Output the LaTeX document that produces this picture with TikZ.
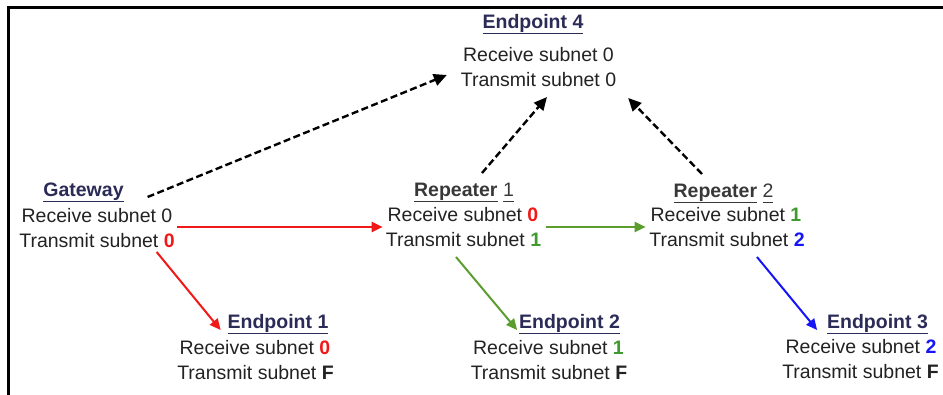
\documentclass[tikz,border=0pt]{standalone}
\usepackage{fontspec}
\setmainfont{Liberation Sans}
\usetikzlibrary{arrows.meta,calc}
\definecolor{txt}{HTML}{222222}
\definecolor{navy}{HTML}{2B2B58}
\definecolor{rep}{HTML}{383838}
\definecolor{myred}{HTML}{F01818}
\definecolor{mygreen}{HTML}{5C9E2E}
\definecolor{numgreen}{HTML}{3E9A2C}
\definecolor{myblue}{HTML}{1515F5}
\newcommand\myul[1]{\setbox0\hbox{#1}\rlap{\rule[-5.5pt]{\wd0}{1.8pt}}\box0\relax}
\newcommand\rn[1]{\textcolor{myred}{\textbf{#1}}}
\newcommand\gn[1]{\textcolor{numgreen}{\textbf{#1}}}
\newcommand\bn[1]{\textcolor{myblue}{\textbf{#1}}}
\begin{document}
\begin{tikzpicture}[x=1pt,y=-1pt,
  every node/.style={inner sep=0pt,outer sep=0pt,anchor=base,font=\fontsize{19.5}{24}\selectfont,text=txt},
  ttl/.style={font=\fontsize{19.5}{24}\selectfont\bfseries,text=navy},
  rttl/.style={font=\fontsize{19.5}{24}\selectfont,text=rep},
  dasharrow/.style={draw=black,line width=2.4pt,dash pattern=on 7pt off 3.5pt,-{Triangle[length=13pt,width=12pt]}},
  colarrow/.style={line width=2pt,-{Triangle[length=11pt,width=10pt]}}
]
\useasboundingbox (0,0) rectangle (943,395);
\draw[line width=2.5pt,line cap=rect] (8.5,395) -- (8.5,7.5) -- (943,7.5);

% Endpoint 4
\node[ttl] (e4t) at (533,29) {\myul{Endpoint 4}};
\node (e4r) at (538.5,62) {Receive subnet 0};
\node (e4x) at (538.5,87) {Transmit subnet 0};
% Gateway
\node[ttl] (gwt) at (83.5,197) {\myul{Gateway}};
\node (gwr) at (97,223) {Receive subnet 0};
\node (gwx) at (97,248) {Transmit subnet \rn{0}};
% Repeater 1
\node[rttl] (r1t) at (464,197) {\myul{\textbf{Repeater}} \myul{1}};
\node (r1r) at (463,222) {Receive subnet \rn{0}};
\node (r1x) at (463.5,247) {Transmit subnet \gn{1}};
% Repeater 2
\node[rttl] (r2t) at (723.5,198) {\myul{\textbf{Repeater}} \myul{2}};
\node (r2r) at (726,222) {Receive subnet \gn{1}};
\node (r2x) at (727,247) {Transmit subnet \bn{2}};
% Endpoint 1
\node[ttl] (e1t) at (278,329) {\myul{Endpoint 1}};
\node (e1r) at (255,355) {Receive subnet \rn{0}};
\node (e1x) at (255.5,380) {Transmit subnet \textbf{F}};
% Endpoint 2
\node[ttl] (e2t) at (569.5,329) {\myul{Endpoint 2}};
\node (e2r) at (548.5,355) {Receive subnet \gn{1}};
\node (e2x) at (549,380) {Transmit subnet \textbf{F}};
% Endpoint 3
\node[ttl] (e3t) at (877.5,329) {\myul{Endpoint 3}};
\node (e3r) at (861,354) {Receive subnet \bn{2}};
\node (e3x) at (860.5,379) {Transmit subnet \textbf{F}};

% dashed connectors to Endpoint 4
\draw[dasharrow] ($(gwt.base east)+(24,0)$) -- ($(e4x.base west)+(-14,-12)$);
\draw[dasharrow] ($(r1t.base)+(18,-24)$) -- ($(e4x.base)+(8.5,10)$);
\draw[dasharrow] ($(r2t.base)+(-21.5,-24)$) -- ($(e4x.base east)+(12,11)$);

% coloured connectors
\draw[colarrow,myred] ($(gwr.base east)+(5,4)$) -- ($(r1r.base west)+(-5,5)$);
\draw[colarrow,myred] ($(gwx.base east)+(-18,4)$) -- ($(e1t.base west)+(-7,1)$);
\draw[colarrow,mygreen] ($(r1r.base east)+(8,5)$) -- ($(r2r.base west)+(-5,5)$);
\draw[colarrow,mygreen] ($(r1x.base)+(-7.5,10)$) -- ($(e2t.base west)+(-2,1)$);
\draw[colarrow,myblue] ($(r2x.base)+(30,10)$) -- ($(e3t.base west)+(-10,1)$);
\end{tikzpicture}
\end{document}
